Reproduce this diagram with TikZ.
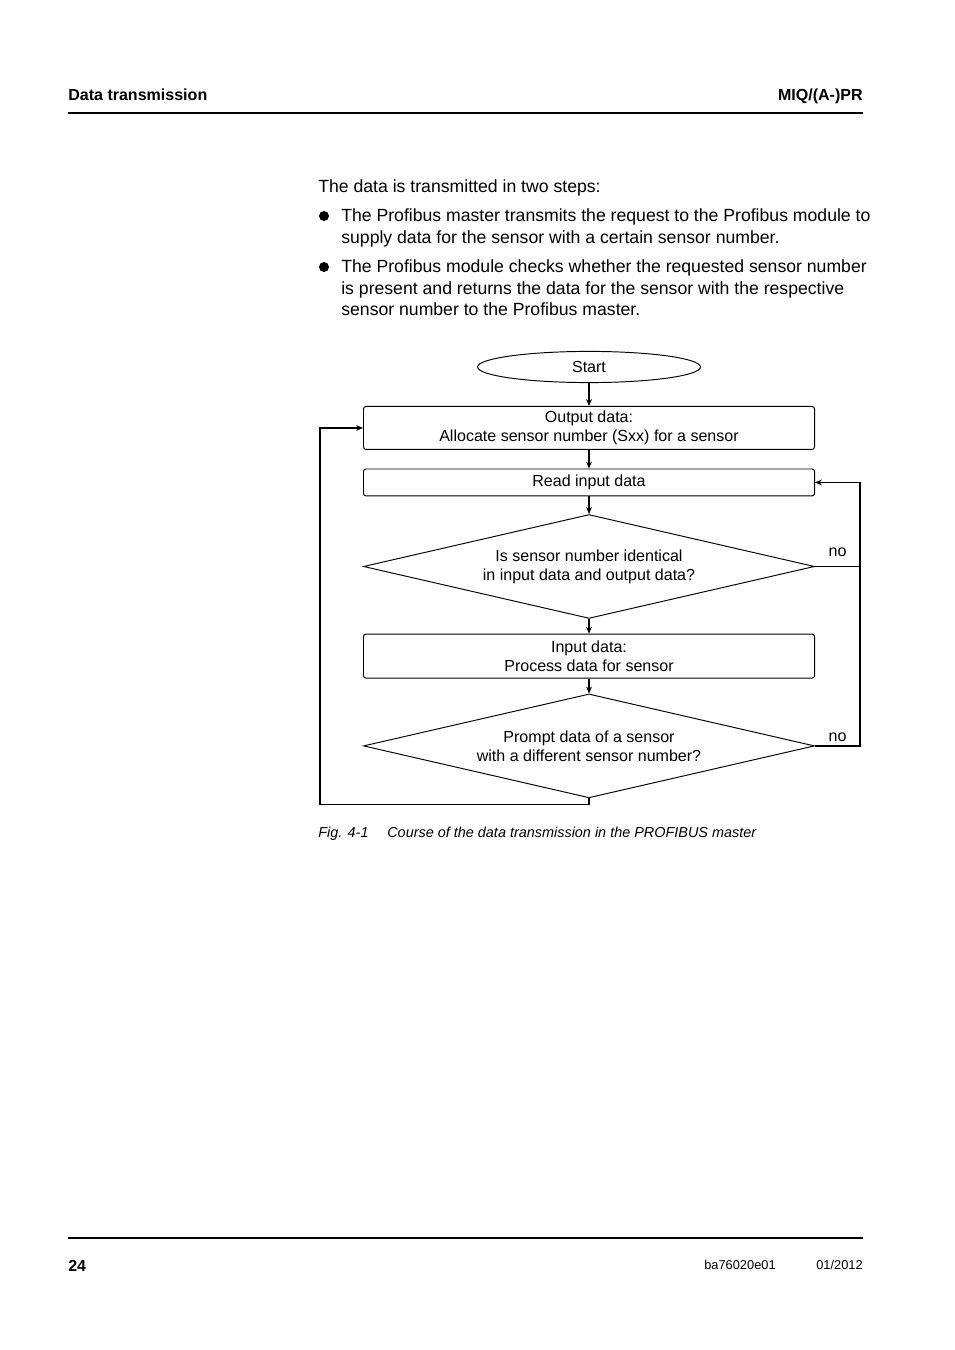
\documentclass[tikz,border=0pt]{standalone}
\usepackage{fontspec}
\setmainfont{Liberation Sans}
\usetikzlibrary{arrows.meta, positioning, shapes.geometric, calc}

\begin{document}
\begin{tikzpicture}[
    x=0.6237pt, y=-0.6237pt,
    proc/.style={draw, rounded corners=1.5pt, minimum width=281.3pt, align=center, inner sep=0pt, line width=0.6pt, font=\fontsize{10}{11.9}\selectfont},
    query/.style={draw, diamond, aspect=4.3, minimum width=281.3pt, minimum height=64.8pt, align=center, inner sep=0pt, line width=0.6pt, font=\fontsize{10}{11.9}\selectfont},
    term/.style={draw, ellipse, minimum width=139pt, minimum height=18.7pt, line width=0.6pt, font=\fontsize{10}{12}\selectfont},
    arr/.style={-{Stealth[length=4.3pt, width=3.6pt]}, line width=0.7pt},
    loopline/.style={line width=0.8pt},
    lbl/.style={inner sep=0pt, font=\fontsize{10}{12}\selectfont},
    pagetxt/.style={anchor=base west, inner sep=0pt, font=\fontsize{11}{13.1}\selectfont}
]
\useasboundingbox (0,0) rectangle (954,1350);

\node[anchor=base west, inner sep=0pt, font=\bfseries\fontsize{10}{12}\selectfont] (chapter) at (68,101) {Data transmission};
\node[anchor=base east, inner sep=0pt, font=\bfseries\fontsize{10}{12}\selectfont] (product) at (863,101) {MIQ/(A-)PR};
\draw[line width=0.75pt] (68,113) -- (863,113);

\node[pagetxt] (intro) at (318,193) {The data is transmitted in two steps:};
\fill (324,216) circle[radius=5];
\node[pagetxt] (stepone) at (341,222) {\parbox[t]{330pt}{The Profibus master transmits the request to the Profibus module to\\supply data for the sensor with a certain sensor number.}};
\fill (324,267) circle[radius=5];
\node[pagetxt] (steptwo) at (341,273) {\parbox[t]{330pt}{The Profibus module checks whether the requested sensor number\\is present and returns the data for the sensor with the respective\\sensor number to the Profibus master.}};

\node[term] (start) at (589,367) {Start};
\node[proc, minimum height=26.8pt, below=14.3pt of start] (alloc) {Output data:\\Allocate sensor number (Sxx) for a sensor};
\node[proc, minimum height=16.8pt, below=11.6pt of alloc] (readin) {Read input data};
\node[query, below=11pt of readin] (same) {Is sensor number identical\\in input data and output data?};
\node[proc, minimum height=27.4pt, below=9.2pt of same] (process) {Input data:\\Process data for sensor};
\node[query, below=9.3pt of process] (other) {Prompt data of a sensor\\with a different sensor number?};

\draw[arr] (start) -- (alloc);
\draw[arr] (alloc) -- (readin);
\draw[arr] (readin) -- (same);
\draw[arr] (same) -- (process);
\draw[arr] (process) -- (other);

\coordinate (leftrail) at ($(alloc.west)+(-43,0)$);
\coordinate (norail) at ($(same.east)+(45,0)$);
\draw[arr, loopline] (other.south) -- ++(0,6) -| (leftrail) -- (alloc.west);
\draw[arr, loopline] (same.east) -- node[lbl, above=5.5pt]{no} (norail) |- (readin.east);
\draw[loopline] (other.east) -- node[lbl, above=2.5pt]{no} ++(45,0) -- (norail);

\node[anchor=base west, inner sep=0pt, font=\itshape\fontsize{9}{11}\selectfont] (fignum) at (318,837) {Fig. 4-1};
\node[anchor=base west, inner sep=0pt, font=\itshape\fontsize{9}{11}\selectfont] (figcap) at (387,837) {Course of the data transmission in the PROFIBUS master};

\draw[line width=0.75pt] (68,1238) -- (863,1238);
\node[anchor=base west, inner sep=0pt, font=\bfseries\fontsize{10}{12}\selectfont] (pageno) at (68,1271) {24};
\node[anchor=base west, inner sep=0pt, font=\fontsize{8}{10}\selectfont] (docid) at (704,1269) {ba76020e01};
\node[anchor=base east, inner sep=0pt, font=\fontsize{8}{10}\selectfont] (docdate) at (863,1269) {01/2012};
\end{tikzpicture}
\end{document}
